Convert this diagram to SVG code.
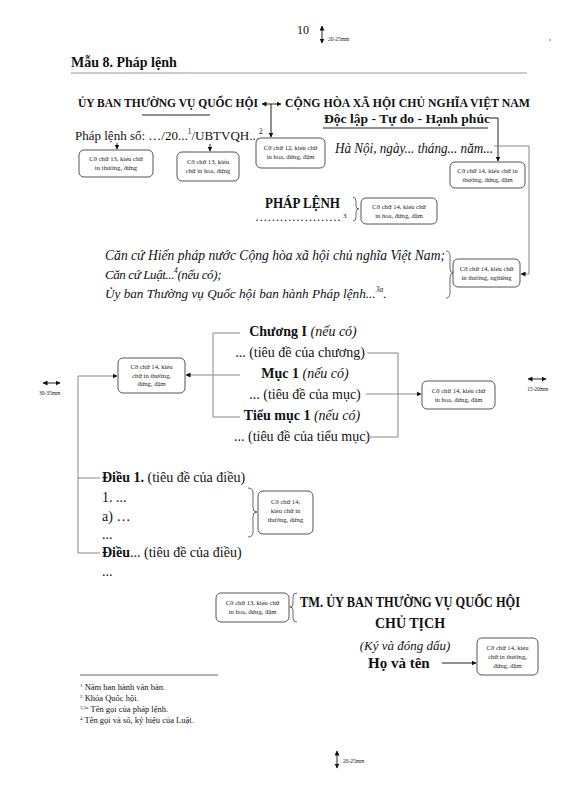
<svg xmlns="http://www.w3.org/2000/svg" width="567" height="796" viewBox="0 0 567 796">
<style>
  text{font-family:"Liberation Serif","Times New Roman",serif;fill:#111}
  .b{font-weight:bold}
  .i{font-style:italic;font-family:"Liberation Serif","Times New Roman",serif}
  .note{font-size:6.6px;fill:#222;text-anchor:middle}
  .box{fill:#fff;stroke:#555;stroke-width:1}
  .ln{fill:none;stroke:#222;stroke-width:1}
  .lg{fill:none;stroke:#888;stroke-width:1}
  .br{fill:none;stroke:#444;stroke-width:0.8}
  .tiny{font-size:5.5px;fill:#222}
</style>
<defs>
  <marker id="ah" viewBox="0 0 10 10" refX="9" refY="5" markerWidth="5" markerHeight="5" orient="auto-start-reverse">
    <path d="M0,0 L10,5 L0,10 z" fill="#111"/>
  </marker>
</defs>

<!-- page header -->
<g id="page-number">
  <text x="297" y="34" font-size="12">10</text>
  <line class="ln" x1="322" y1="26" x2="322" y2="43" marker-start="url(#ah)" marker-end="url(#ah)"/>
  <text class="tiny" x="328" y="41">20-25mm</text>
  <circle cx="550" cy="40" r="0.8" fill="#555"/>
</g>
<g id="title">
  <text class="b" x="71" y="67" font-size="14">Mẫu 8. Pháp lệnh</text>
  <line x1="71" y1="73" x2="527" y2="73" stroke="#999" stroke-width="1"/>
</g>

<!-- header block -->
<g id="issuer">
  <text class="b" x="78" y="107" font-size="12" textLength="180" lengthAdjust="spacingAndGlyphs">ỦY BAN THƯỜNG VỤ QUỐC HỘI</text>
  <line x1="142" y1="115" x2="210" y2="115" stroke="#222" stroke-width="1"/>
</g>
<g id="national">
  <text class="b" x="285" y="107" font-size="12" textLength="245" lengthAdjust="spacingAndGlyphs">CỘNG HÒA XÃ HỘI CHỦ NGHĨA VIỆT NAM</text>
  <text class="b" x="324" y="123" font-size="13.5" textLength="166" lengthAdjust="spacingAndGlyphs">Độc lập - Tự do - Hạnh phúc</text>
  <line x1="323" y1="128" x2="488" y2="128" stroke="#222" stroke-width="1"/>
</g>
<g id="number">
  <text x="75" y="140" font-size="13">Pháp lệnh số: …/20...<tspan font-size="7.5" dy="-6">1</tspan><tspan dy="6">/UBTVQH...</tspan><tspan font-size="7.5" dy="-6">2</tspan></text>
</g>
<g id="place-date">
  <text class="i" x="335" y="153" font-size="15" textLength="158" lengthAdjust="spacingAndGlyphs">Hà Nội, ngày... tháng... năm...</text>
</g>

<g id="note-number-13a">
  <rect class="box" x="79" y="150" width="74" height="27" rx="5"/>
  <text class="note" x="116" y="161">Cỡ chữ 13, kiểu chữ</text>
  <text class="note" x="116" y="170">in thường, đứng</text>
</g>
<g id="note-number-13b">
  <rect class="box" x="177" y="152" width="62" height="29" rx="5"/>
  <text class="note" x="208" y="164">Cỡ chữ 13, kiểu</text>
  <text class="note" x="208" y="173">chữ in hoa, đứng</text>
</g>
<g id="note-header-12">
  <rect class="box" x="256" y="138" width="69" height="30" rx="5"/>
  <text class="note" x="290.5" y="150">Cỡ chữ 12, kiểu chữ</text>
  <text class="note" x="290.5" y="159">in hoa, đứng, đậm</text>
</g>
<g id="note-motto-14">
  <rect class="box" x="450" y="162" width="75" height="26" rx="5"/>
  <text class="note" x="487.5" y="173">Cỡ chữ 14, kiểu chữ in</text>
  <text class="note" x="487.5" y="182">thường, đứng, đậm</text>
</g>

<!-- title -->
<g id="doc-title">
  <text class="b" x="265" y="208" font-size="15" textLength="75" lengthAdjust="spacingAndGlyphs">PHÁP LỆNH</text>
  <text x="343" y="218" font-size="7">3</text>
  <text x="255" y="221" font-size="12" textLength="86" lengthAdjust="spacingAndGlyphs">…………………</text>
</g>
<g id="note-title-14">
  <path class="br" d="M353,197 Q356,197 356,201 L356,206 Q356,209 359,209 Q356,209 356,212 L356,217 Q356,221 353,221"/>
  <rect class="box" x="361" y="198" width="76" height="26" rx="5"/>
  <text class="note" x="399" y="209">Cỡ chữ 14, kiểu chữ</text>
  <text class="note" x="399" y="218">in hoa, đứng, đậm</text>
</g>

<!-- bases -->
<g id="bases">
  <text class="i" x="105" y="260" font-size="14" textLength="340" lengthAdjust="spacingAndGlyphs">Căn cứ Hiến pháp nước Cộng hòa xã hội chủ nghĩa Việt Nam;</text>
  <text class="i" x="105" y="279" font-size="13" letter-spacing="-0.4">Căn cứ Luật...<tspan font-size="7.5" dy="-6">4</tspan><tspan dy="6">(nếu có);</tspan></text>
  <text class="i" x="105" y="298" font-size="13.2">Ủy ban Thường vụ Quốc hội ban hành Pháp lệnh...<tspan font-size="7.5" dy="-6">3a</tspan><tspan dy="6">.</tspan></text>
</g>
<g id="note-bases-14">
  <path class="br" d="M446,251 Q450,251 450,256 L450,269 Q450,273 454,273 Q450,273 450,277 L450,293 Q450,298 446,298"/>
  <rect class="box" x="453" y="259" width="67" height="28" rx="5"/>
  <text class="note" x="486.5" y="271">Cỡ chữ 14, kiểu chữ</text>
  <text class="note" x="486.5" y="280">in thường, nghiêng</text>
</g>

<!-- chapters -->
<g id="chapters">
  <text x="303" y="336" font-size="14" text-anchor="middle"><tspan class="b">Chương I</tspan> <tspan class="i">(nếu có)</tspan></text>
  <text x="300" y="357" font-size="14" text-anchor="middle">... (tiêu đề của chương)</text>
  <text x="305" y="378" font-size="14" text-anchor="middle"><tspan class="b">Mục 1</tspan> <tspan class="i">(nếu có)</tspan></text>
  <text x="305" y="399" font-size="14" text-anchor="middle">... (tiêu đề của mục)</text>
  <text x="302" y="420" font-size="14" text-anchor="middle"><tspan class="b">Tiểu mục 1</tspan> <tspan class="i">(nếu có)</tspan></text>
  <text x="302" y="441" font-size="14" text-anchor="middle">... (tiêu đề của tiểu mục)</text>
</g>
<g id="note-chapter-left">
  <rect class="box" x="118" y="358" width="67" height="35" rx="5"/>
  <text class="note" x="151.5" y="369">Cỡ chữ 14, kiểu</text>
  <text class="note" x="151.5" y="377.5">chữ in thường,</text>
  <text class="note" x="151.5" y="386">đứng, đậm</text>
</g>
<g id="note-chapter-right">
  <rect class="box" x="422" y="381" width="73" height="28" rx="5"/>
  <text class="note" x="458.5" y="393">Cỡ chữ 14, kiểu chữ</text>
  <text class="note" x="458.5" y="402">in hoa, đứng, đậm</text>
</g>
<g id="margin-left">
  <line class="ln" x1="43" y1="383" x2="60" y2="383" marker-start="url(#ah)" marker-end="url(#ah)"/>
  <text class="tiny" x="39" y="395">30-35mm</text>
</g>
<g id="margin-right">
  <line class="ln" x1="528" y1="379" x2="546" y2="379" marker-start="url(#ah)" marker-end="url(#ah)"/>
  <text class="tiny" x="527" y="391">15-20mm</text>
</g>

<!-- articles -->
<g id="articles">
  <text x="102" y="482" font-size="14"><tspan class="b">Điều 1.</tspan> (tiêu đề của điều)</text>
  <text x="102" y="502" font-size="14">1. ...</text>
  <text x="102" y="521" font-size="14">a) …</text>
  <text x="102" y="539" font-size="14">...</text>
  <text x="102" y="557" font-size="14"><tspan class="b">Điều</tspan>... (tiêu đề của điều)</text>
  <text x="102" y="576" font-size="14">...</text>
</g>
<g id="note-article-14">
  <path class="br" d="M248,488 Q253,488 253,493 L253,508 Q253,512 257,512 Q253,512 253,516 L253,532 Q253,537 248,537"/>
  <rect class="box" x="258" y="491" width="55" height="43" rx="5"/>
  <text class="note" x="285.5" y="504">Cỡ chữ 14,</text>
  <text class="note" x="285.5" y="513">kiểu chữ in</text>
  <text class="note" x="285.5" y="522">thường, đứng</text>
</g>

<!-- signature -->
<g id="signature">
  <text class="b" x="300" y="607" font-size="14" textLength="220" lengthAdjust="spacingAndGlyphs">TM. ỦY BAN THƯỜNG VỤ QUỐC HỘI</text>
  <text class="b" x="410" y="628" font-size="14" text-anchor="middle">CHỦ TỊCH</text>
  <text class="i" x="405" y="650" font-size="13" text-anchor="middle">(Ký và đóng dấu)</text>
  <text class="b" x="368" y="668" font-size="15">Họ và tên</text>
</g>
<g id="note-signature-13">
  <rect class="box" x="216" y="593" width="73" height="29" rx="5"/>
  <text class="note" x="252.5" y="605">Cỡ chữ 13, kiểu chữ</text>
  <text class="note" x="252.5" y="614">in hoa, đứng, đậm</text>
  <path class="br" d="M297,593 Q293,593 293,597 L293,604 Q293,607 290,607 Q293,607 293,610 L293,618 Q293,622 297,622"/>
</g>
<g id="note-name-14">
  <rect class="box" x="477" y="638" width="61" height="37" rx="5"/>
  <text class="note" x="507.5" y="650">Cỡ chữ 14, kiểu</text>
  <text class="note" x="507.5" y="659">chữ in thường,</text>
  <text class="note" x="507.5" y="668">đứng, đậm</text>
</g>

<!-- footnotes -->
<g id="footnotes">
  <line x1="80" y1="675" x2="218" y2="675" stroke="#666" stroke-width="1"/>
  <text x="80" y="690" font-size="8.5"><tspan font-size="5" dy="-3">1</tspan><tspan dy="3"> Năm ban hành văn bản.</tspan></text>
  <text x="80" y="701" font-size="8.5"><tspan font-size="5" dy="-3">2</tspan><tspan dy="3"> Khóa Quốc hội.</tspan></text>
  <text x="80" y="712" font-size="8.5"><tspan font-size="5" dy="-3">3,3a</tspan><tspan dy="3"> Tên gọi của pháp lệnh.</tspan></text>
  <text x="80" y="723" font-size="8.5"><tspan font-size="5" dy="-3">4</tspan><tspan dy="3"> Tên gọi và số, ký hiệu của Luật.</tspan></text>
</g>
<g id="page-bottom">
  <line class="ln" x1="337" y1="751" x2="337" y2="768" marker-start="url(#ah)" marker-end="url(#ah)"/>
  <text class="tiny" x="343" y="763">20-25mm</text>
</g>

<!-- connectors -->
<g id="connectors">
  <line class="ln" x1="262" y1="104" x2="281" y2="104" marker-start="url(#ah)" marker-end="url(#ah)"/>
  <line class="ln" x1="271" y1="104" x2="271" y2="137" marker-end="url(#ah)"/>
  <line class="ln" x1="117" y1="143" x2="117" y2="149" marker-end="url(#ah)"/>
  <line class="ln" x1="210" y1="144" x2="210" y2="151" marker-end="url(#ah)"/>
  <polyline class="ln" points="490,118 498,118 498,161" marker-end="url(#ah)"/>
  <polyline class="lg" points="494,146 529,146 529,274 521,274" marker-end="url(#ah)"/>
  <polyline class="lg" points="240,333 213,333 213,417 240,417"/>
  <line class="lg" x1="240" y1="375" x2="186" y2="375" marker-end="url(#ah)"/>
  <polyline class="lg" points="367,353 398,353 398,437 367,437"/>
  <line class="lg" x1="366" y1="394" x2="421" y2="394" marker-end="url(#ah)"/>
  <polyline class="lg" points="78,553 78,376 117,376" marker-end="url(#ah)"/>
  <line class="lg" x1="78" y1="478" x2="100" y2="478"/>
  <line class="lg" x1="78" y1="553" x2="100" y2="553"/>
  <line class="ln" x1="442" y1="663" x2="476" y2="663" marker-end="url(#ah)"/>
</g>
</svg>
